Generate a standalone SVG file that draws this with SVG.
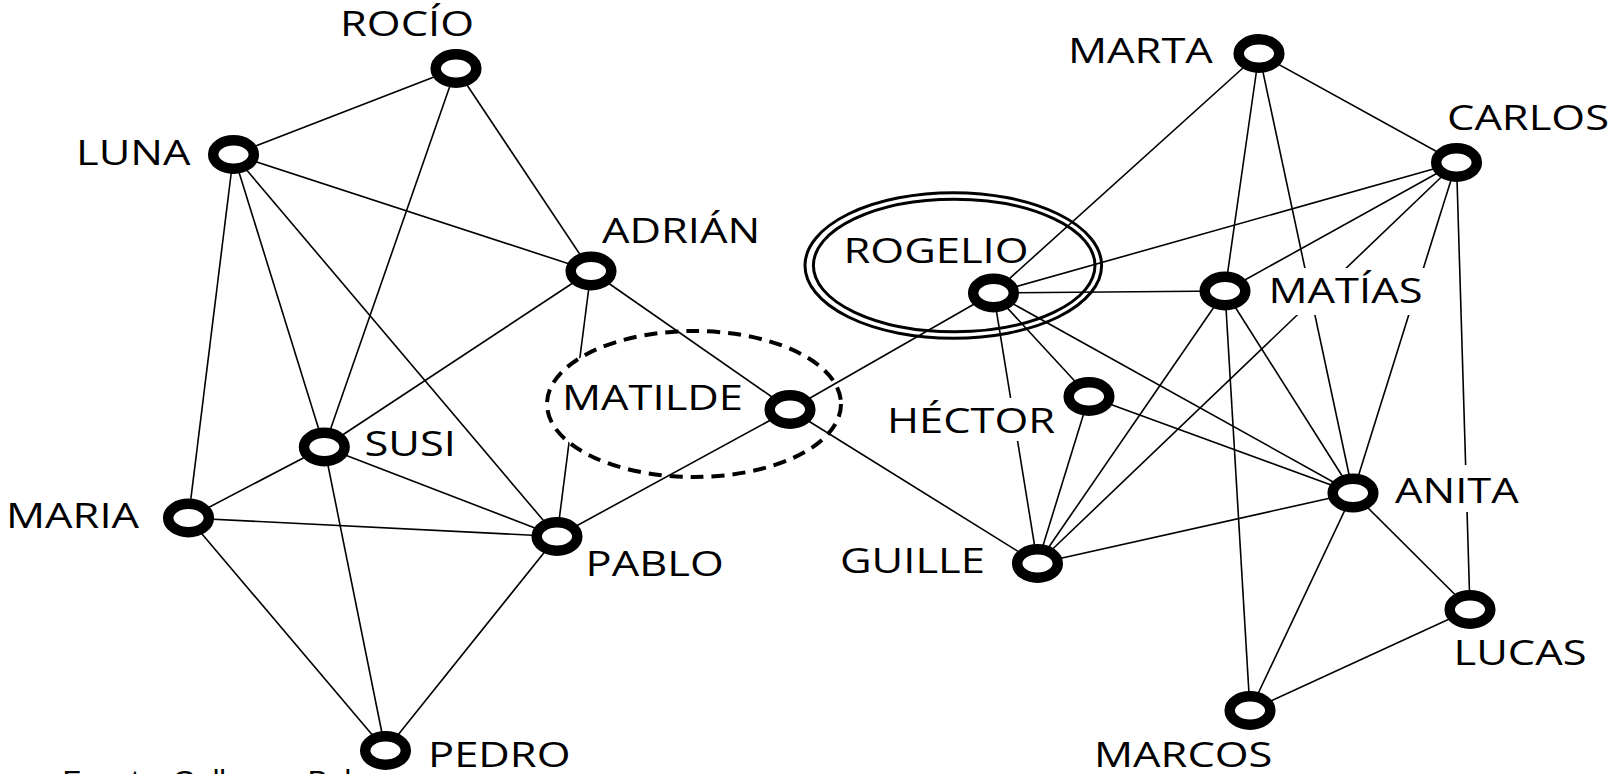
<svg xmlns="http://www.w3.org/2000/svg" width="1623" height="774" viewBox="0 0 1623 774">
<style>
.edge{stroke:#000;stroke-width:1.6;fill:none}
.ring{fill:#fff;stroke:#000;stroke-width:10.5}
.lbl{font-family:"Open Sans","DejaVu Sans",sans-serif;font-size:34.5px;fill:#000}
.bg{fill:#fff}
.dash{fill:none;stroke:#000;stroke-width:4;stroke-dasharray:13 8}
.dbl{fill:none;stroke:#000;stroke-width:3}
.src{font-family:"Liberation Sans",Arial,sans-serif;font-size:30px;fill:#000}
</style>
<defs>
<mask id="m-matilde" maskUnits="userSpaceOnUse" x="0" y="0" width="1623" height="774">
<rect x="0" y="0" width="1623" height="774" fill="#fff"/>
<ellipse cx="694" cy="404" rx="147" ry="73" fill="#000"/>
</mask>
</defs>
<rect x="0" y="0" width="1623" height="774" fill="#fff"/>
<g id="connectors">
<line class="edge" x1="233.5" y1="154.5" x2="456" y2="68.5"/>
<line class="edge" x1="233.5" y1="154.5" x2="591" y2="271"/>
<line class="edge" x1="233.5" y1="154.5" x2="188.5" y2="518"/>
<line class="edge" x1="233.5" y1="154.5" x2="324.3" y2="447"/>
<line class="edge" x1="233.5" y1="154.5" x2="557" y2="536.5"/>
<line class="edge" x1="456" y1="68.5" x2="324.3" y2="447"/>
<line class="edge" x1="456" y1="68.5" x2="591" y2="271"/>
<line class="edge" x1="591" y1="271" x2="324.3" y2="447"/>
<line class="edge" x1="591" y1="271" x2="557" y2="536.5" mask="url(#m-matilde)"/>
<line class="edge" x1="591" y1="271" x2="790" y2="409.5"/>
<line class="edge" x1="324.3" y1="447" x2="188.5" y2="518"/>
<line class="edge" x1="324.3" y1="447" x2="557" y2="536.5"/>
<line class="edge" x1="324.3" y1="447" x2="385.5" y2="750.5"/>
<line class="edge" x1="188.5" y1="518" x2="557" y2="536.5"/>
<line class="edge" x1="188.5" y1="518" x2="385.5" y2="750.5"/>
<line class="edge" x1="557" y1="536.5" x2="385.5" y2="750.5"/>
<line class="edge" x1="557" y1="536.5" x2="790" y2="409.5"/>
<line class="edge" x1="790" y1="409.5" x2="993.5" y2="293"/>
<line class="edge" x1="790" y1="409.5" x2="1037.5" y2="563.5"/>
<line class="edge" x1="993.5" y1="293" x2="1259" y2="53.5"/>
<line class="edge" x1="993.5" y1="293" x2="1456.5" y2="162.5"/>
<line class="edge" x1="993.5" y1="293" x2="1225" y2="291"/>
<line class="edge" x1="993.5" y1="293" x2="1037.5" y2="563.5"/>
<line class="edge" x1="993.5" y1="293" x2="1089" y2="396.5"/>
<line class="edge" x1="993.5" y1="293" x2="1353" y2="493"/>
<line class="edge" x1="1089" y1="396.5" x2="1037.5" y2="563.5"/>
<line class="edge" x1="1089" y1="396.5" x2="1353" y2="493"/>
<line class="edge" x1="1037.5" y1="563.5" x2="1225" y2="291"/>
<line class="edge" x1="1037.5" y1="563.5" x2="1456.5" y2="162.5"/>
<line class="edge" x1="1037.5" y1="563.5" x2="1353" y2="493"/>
<line class="edge" x1="1225" y1="291" x2="1259" y2="53.5"/>
<line class="edge" x1="1225" y1="291" x2="1456.5" y2="162.5"/>
<line class="edge" x1="1225" y1="291" x2="1353" y2="493"/>
<line class="edge" x1="1225" y1="291" x2="1250" y2="710.5"/>
<line class="edge" x1="1259" y1="53.5" x2="1353" y2="493"/>
<line class="edge" x1="1259" y1="53.5" x2="1456.5" y2="162.5"/>
<line class="edge" x1="1456.5" y1="162.5" x2="1353" y2="493"/>
<line class="edge" x1="1456.5" y1="162.5" x2="1470" y2="609.5"/>
<line class="edge" x1="1353" y1="493" x2="1470" y2="609.5"/>
<line class="edge" x1="1353" y1="493" x2="1250" y2="710.5"/>
<line class="edge" x1="1470" y1="609.5" x2="1250" y2="710.5"/>
</g>
<g id="node-rocio">
<ellipse class="ring" cx="456" cy="68.5" rx="20.3" ry="14.2"/>
<text class="lbl" transform="translate(340 35.5) scale(1.26 1)">ROCÍO</text>
</g>
<g id="node-luna">
<ellipse class="ring" cx="233.5" cy="154.5" rx="20.3" ry="14.2"/>
<text class="lbl" transform="translate(76 165) scale(1.26 1)">LUNA</text>
</g>
<g id="node-adrian">
<ellipse class="ring" cx="591" cy="271" rx="20.3" ry="14.2"/>
<text class="lbl" transform="translate(602 243.3) scale(1.26 1)">ADRIÁN</text>
</g>
<g id="node-matilde">
<ellipse class="dash" cx="694" cy="404" rx="147" ry="73"/>
<ellipse class="ring" cx="790" cy="409.5" rx="20.3" ry="14.2"/>
<text class="lbl" transform="translate(562 410) scale(1.26 1)">MATILDE</text>
</g>
<g id="node-rogelio">
<ellipse class="dbl" cx="953.3" cy="265.5" rx="148.3" ry="72.8"/>
<ellipse class="dbl" cx="954.2" cy="265.5" rx="140.8" ry="66.2"/>
<ellipse class="ring" cx="993.5" cy="293" rx="20.3" ry="14.2"/>
<text class="lbl" transform="translate(843.5 262.7) scale(1.26 1)">ROGELIO</text>
</g>
<g id="node-hector">
<rect class="bg" x="886" y="398" width="176" height="43"/>
<ellipse class="ring" cx="1089" cy="396.5" rx="20.3" ry="14.2"/>
<text class="lbl" transform="translate(887 433.3) scale(1.26 1)">HÉCTOR</text>
</g>
<g id="node-matias">
<rect class="bg" x="1270" y="268" width="170" height="47"/>
<ellipse class="ring" cx="1225" cy="291" rx="20.3" ry="14.2"/>
<text class="lbl" transform="translate(1268.5 303.3) scale(1.26 1)">MATÍAS</text>
</g>
<g id="node-marta">
<ellipse class="ring" cx="1259" cy="53.5" rx="20.3" ry="14.2"/>
<text class="lbl" transform="translate(1068 62.7) scale(1.26 1)">MARTA</text>
</g>
<g id="node-carlos">
<ellipse class="ring" cx="1456.5" cy="162.5" rx="20.3" ry="14.2"/>
<text class="lbl" transform="translate(1447 129.5) scale(1.26 1)">CARLOS</text>
</g>
<g id="node-anita">
<rect class="bg" x="1390" y="465" width="138" height="47"/>
<ellipse class="ring" cx="1353" cy="493" rx="20.3" ry="14.2"/>
<text class="lbl" transform="translate(1395 503.3) scale(1.26 1)">ANITA</text>
</g>
<g id="node-lucas">
<ellipse class="ring" cx="1470" cy="609.5" rx="20.3" ry="14.2"/>
<text class="lbl" transform="translate(1453.5 665) scale(1.26 1)">LUCAS</text>
</g>
<g id="node-marcos">
<ellipse class="ring" cx="1250" cy="710.5" rx="20.3" ry="14.2"/>
<text class="lbl" transform="translate(1094 766.7) scale(1.26 1)">MARCOS</text>
</g>
<g id="node-guille">
<ellipse class="ring" cx="1037.5" cy="563.5" rx="20.3" ry="14.2"/>
<text class="lbl" transform="translate(840 573.3) scale(1.26 1)">GUILLE</text>
</g>
<g id="node-susi">
<ellipse class="ring" cx="324.3" cy="447" rx="20.3" ry="14.2"/>
<text class="lbl" transform="translate(364.5 456) scale(1.26 1)">SUSI</text>
</g>
<g id="node-maria">
<ellipse class="ring" cx="188.5" cy="518" rx="20.3" ry="14.2"/>
<text class="lbl" transform="translate(6 528.3) scale(1.26 1)">MARIA</text>
</g>
<g id="node-pablo">
<ellipse class="ring" cx="557" cy="536.5" rx="20.3" ry="14.2"/>
<text class="lbl" transform="translate(585.5 576) scale(1.26 1)">PABLO</text>
</g>
<g id="node-pedro">
<ellipse class="ring" cx="385.5" cy="750.5" rx="20.3" ry="14.2"/>
<text class="lbl" transform="translate(428 766.7) scale(1.26 1)">PEDRO</text>
</g>
<g id="source">
<text class="src" x="62.6" y="790.5">Fuente: Gallego y Bel</text>
</g>
</svg>
